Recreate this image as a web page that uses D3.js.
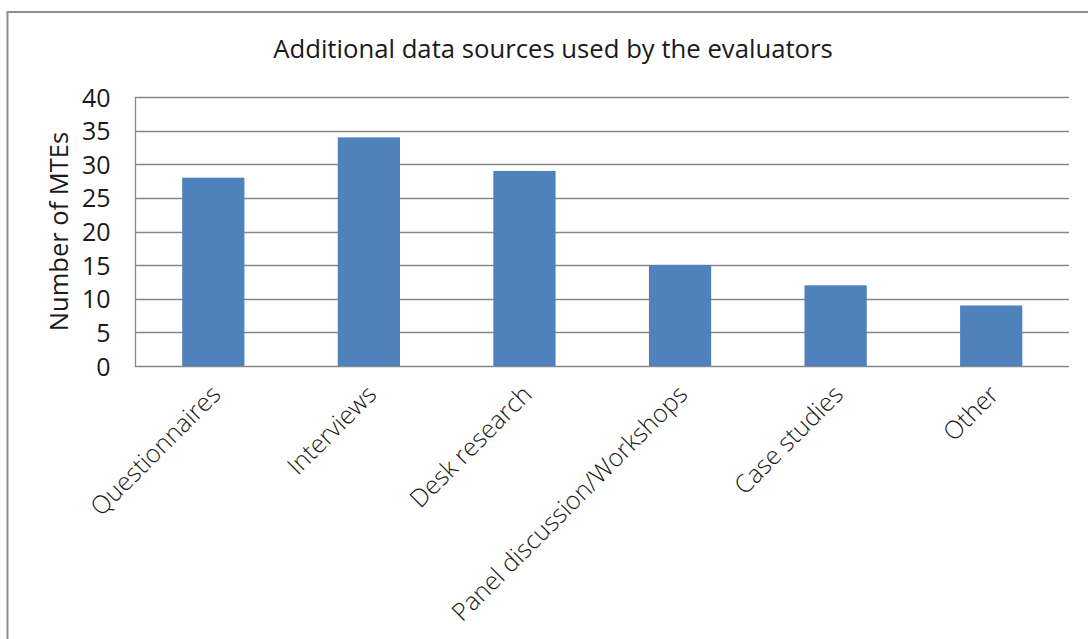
<!DOCTYPE html>
<html>
<head>
<meta charset="utf-8">
<script src="https://cdn.jsdelivr.net/npm/d3@7"></script>
<style>
  html, body { margin: 0; padding: 0; background: #fff; }
  svg { display: block; }
  text { fill: #1a1a1a; }
</style>
</head>
<body>
<svg id="chart" width="1088" height="639"></svg>
<script>
// Data sources reported in the mid-term evaluations
const categories = ["Questionnaires", "Interviews", "Desk research", "Panel discussion/Workshops", "Case studies", "Other"];
const counts = [28, 34, 29, 15, 12, 9];
const yTicks = [0, 5, 10, 15, 20, 25, 30, 35, 40];

const titleText = "Additional data sources used by the evaluators";
const yTitle = "Number of MTEs";

const plot = { left: 135.5, top: 97, right: 1069, bottom: 366 };
const font = "'Open Sans', 'Noto Sans', sans-serif";
const gridColor = "#878787";
const barColor = "#4F81BD";

const svg = d3.select("#chart");

// outer chart frame (runs past the right and bottom edges)
svg.append("rect")
  .attr("x", 7.5).attr("y", 12)
  .attr("width", 1100).attr("height", 700)
  .attr("fill", "#fff")
  .attr("stroke", "#8c8c8c")
  .attr("stroke-width", 2);

const x = d3.scaleBand()
  .domain(categories)
  .range([plot.left, plot.right])
  .paddingInner(0.6)
  .paddingOuter(0.3);

const y = d3.scaleLinear()
  .domain([0, 40])
  .range([plot.bottom, plot.top]);

// horizontal gridlines
svg.append("g")
  .selectAll("line")
  .data(yTicks)
  .join("line")
  .attr("x1", plot.left).attr("x2", plot.right)
  .attr("y1", d => Math.round(y(d)) + 0.5)
  .attr("y2", d => Math.round(y(d)) + 0.5)
  .attr("stroke", gridColor)
  .attr("stroke-width", 1.3);

// bars
svg.append("g")
  .selectAll("rect")
  .data(counts)
  .join("rect")
  .attr("x", (d, i) => x(categories[i]))
  .attr("width", x.bandwidth())
  .attr("y", d => y(d))
  .attr("height", d => y(0) - y(d))
  .attr("fill", barColor);

// value axis line
svg.append("line")
  .attr("x1", plot.left).attr("x2", plot.left)
  .attr("y1", plot.top).attr("y2", plot.bottom + 1)
  .attr("stroke", gridColor)
  .attr("stroke-width", 1.3);

// y axis
const yAxis = d3.axisLeft(y).tickValues(yTicks).tickSize(0).tickPadding(0);
const gy = svg.append("g")
  .attr("transform", `translate(${plot.left - 25},0)`)
  .call(yAxis);
gy.select(".domain").remove();
gy.selectAll("text")
  .attr("font-family", font)
  .attr("font-size", 25)
  .attr("fill", "#1a1a1a")
  .attr("dy", "0.36em");

// x axis labels, rotated
const xAxis = d3.axisBottom(x).tickSize(0).tickPadding(0);
const gx = svg.append("g")
  .attr("transform", `translate(0,${plot.bottom})`)
  .call(xAxis);
gx.select(".domain").remove();
gx.selectAll("text")
  .attr("font-family", font)
  .attr("font-weight", 300)
  .attr("font-size", 25)
  .attr("fill", "#1a1a1a")
  .attr("text-anchor", "end")
  .attr("dy", 0)
  .attr("y", 0)
  .attr("transform", "translate(9,30) rotate(-45)");

// title
svg.append("text")
  .attr("x", 553).attr("y", 58)
  .attr("text-anchor", "middle")
  .attr("font-family", font)
  .attr("font-size", 25.7)
  .text(titleText);

// y axis title
svg.append("text")
  .attr("transform", `translate(68,${(plot.top + plot.bottom) / 2}) rotate(-90)`)
  .attr("text-anchor", "middle")
  .attr("font-family", font)
  .attr("font-size", 25.5)
  .text(yTitle);
</script>
</body>
</html>
